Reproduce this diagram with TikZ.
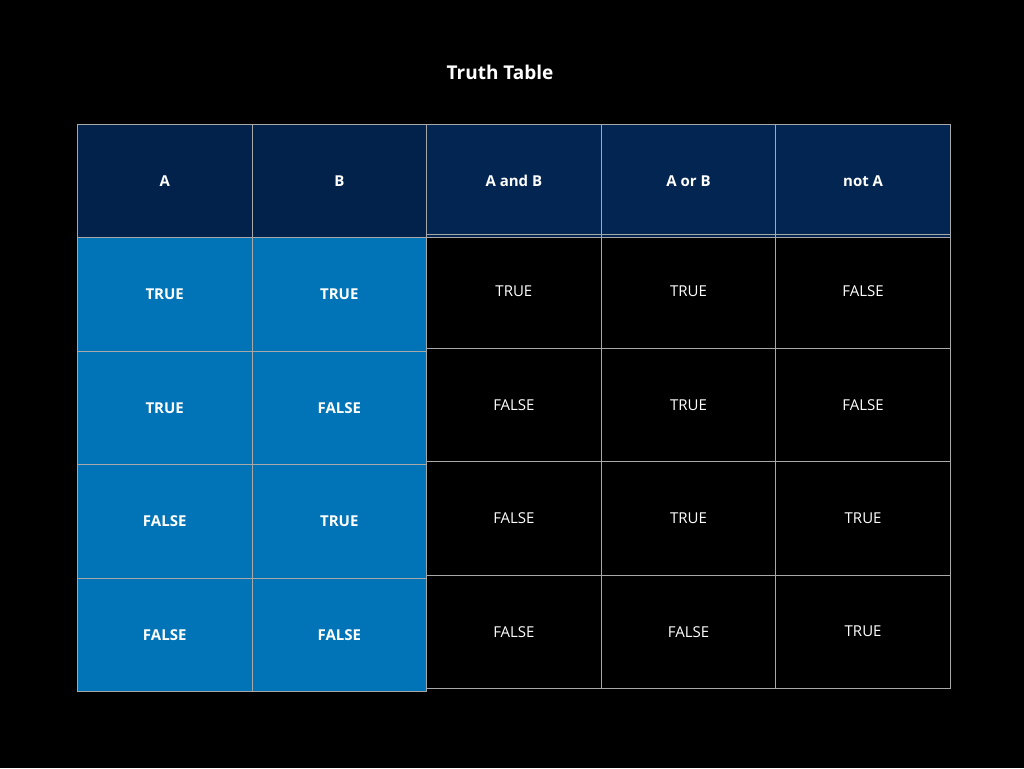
\documentclass[tikz,border=0pt]{standalone}
\usepackage{fontspec}
\setmainfont{Open Sans}
\definecolor{hdrA}{HTML}{03224B}
\definecolor{hdrB}{HTML}{022552}
\definecolor{cellblue}{HTML}{0074B7}
\definecolor{grid}{HTML}{A8A8A8}
\begin{document}
\begin{tikzpicture}[x=1pt,y=-1pt,
  cell/.style={draw=grid,line width=0.8pt,minimum width=174.6pt,minimum height=113.4pt,anchor=north west,inner sep=0pt,text=white,font=\fontsize{15}{18}\selectfont},
  hd/.style={cell,font=\bfseries\fontsize{15}{18}\selectfont},
  inp/.style={cell,fill=cellblue,font=\bfseries\fontsize{15}{18}\selectfont}]
\fill[black] (0,0) rectangle (1024,768);
\useasboundingbox (0,0) rectangle (1024,768);
\node[text=white,font=\bfseries\fontsize{19}{22}\selectfont] (title) at (500,72) {Truth Table};
\def\cw{174.6}\def\rh{113.4}
\node[hd,fill=hdrA] (h1) at (77,124) {A};
\node[hd,fill=hdrA] (h2) at (77+\cw,124) {B};
\node[hd,fill=hdrB] (h3) at (77+2*\cw,124) {A and B};
\node[hd,fill=hdrB] (h4) at (77+3*\cw,124) {A or B};
\node[hd,fill=hdrB] (h5) at (77+4*\cw,124) {not A};
\foreach \r/\a/\b/\c/\d/\e in {1/TRUE/TRUE/TRUE/TRUE/FALSE,2/TRUE/FALSE/FALSE/TRUE/FALSE,3/FALSE/TRUE/FALSE/TRUE/TRUE,4/FALSE/FALSE/FALSE/FALSE/TRUE}{
  \node[inp] (r\r c1) at (77,124+\r*\rh) {\a};
  \node[inp] (r\r c2) at (77+\cw,124+\r*\rh) {\b};
  \node[cell,yshift=3pt] (r\r c3) at (77+2*\cw,124+\r*\rh) {\raisebox{0pt}{\c}};
  \node[cell,yshift=3pt] (r\r c4) at (77+3*\cw,124+\r*\rh) {\d};
  \node[cell,yshift=3pt] (r\r c5) at (77+4*\cw,124+\r*\rh) {\e};
}
\end{tikzpicture}
\end{document}
